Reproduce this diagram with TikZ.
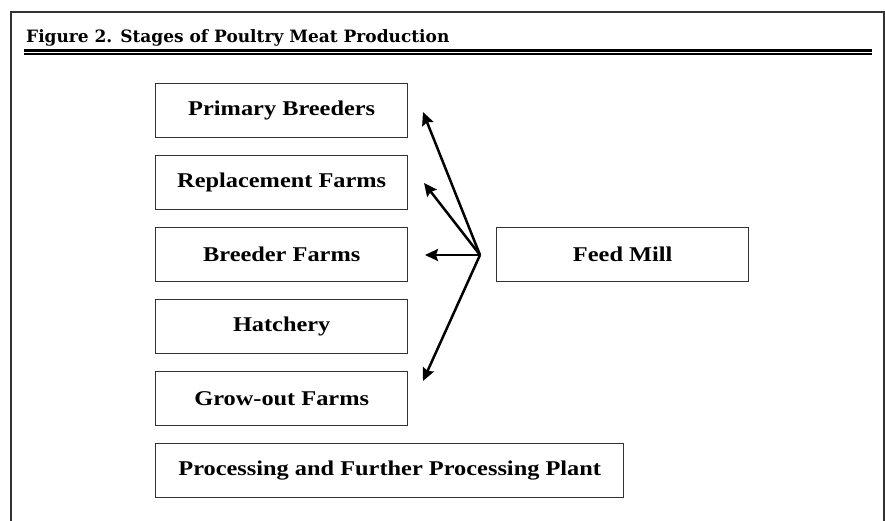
\documentclass[tikz,border=0pt]{standalone}
\usepackage{fontspec}
\newfontfamily\boxfont[FakeStretch=1.16]{Liberation Serif}
\newfontfamily\titlefont{DejaVu Serif}
\usetikzlibrary{arrows.meta}
\begin{document}
\begin{tikzpicture}[x=1pt,y=-1pt]
\useasboundingbox (0,0) rectangle (885,520);
\tikzset{
  stage/.style={draw=black!80, line width=1.4pt, minimum width=252pt, minimum height=54pt,
    inner sep=0pt, anchor=north west, font=\boxfont\bfseries\fontsize{21}{23}\selectfont},
  feedarrow/.style={-{Stealth[length=13pt,width=12pt,inset=2pt]}, line width=2.5pt},
  frameline/.style={draw=black!80, line width=2pt}
}
% frame
\draw[frameline] (11,525) -- (11,12) -- (884,12) -- (884,525);
% title
\node[anchor=base west, inner sep=0pt, font=\titlefont\bfseries\fontsize{17}{20}\selectfont] (title) at (26,42) {Figure 2. Stages of Poultry Meat Production};
\draw[line width=2.5pt] (24,50.3) -- (872,50.3);
\draw[line width=2pt] (24,53.6) -- (872,53.6);
% stages
\node[stage] (pb) at (155,83) {Primary Breeders};
\node[stage] (rf) at (155,155) {Replacement Farms};
\node[stage] (bf) at (155,227) {Breeder Farms};
\node[stage] (ha) at (155,299) {Hatchery};
\node[stage] (go) at (155,371) {Grow-out Farms};
\node[stage, minimum width=468pt] (pp) at (155,443) {Processing and Further Processing Plant};
\node[stage] (fm) at (496,227) {Feed Mill};
% arrows
\coordinate (hub) at (480,255);
\coordinate (tpb) at (423,112);
\coordinate (trf) at (424,183);
\coordinate (tbf) at (425,255);
\coordinate (tgo) at (423,381);
\draw[feedarrow] (hub) -- (tpb);
\draw[feedarrow] (hub) -- (trf);
\draw[feedarrow] (hub) -- (tbf);
\draw[feedarrow] (hub) -- (tgo);
\end{tikzpicture}
\end{document}
